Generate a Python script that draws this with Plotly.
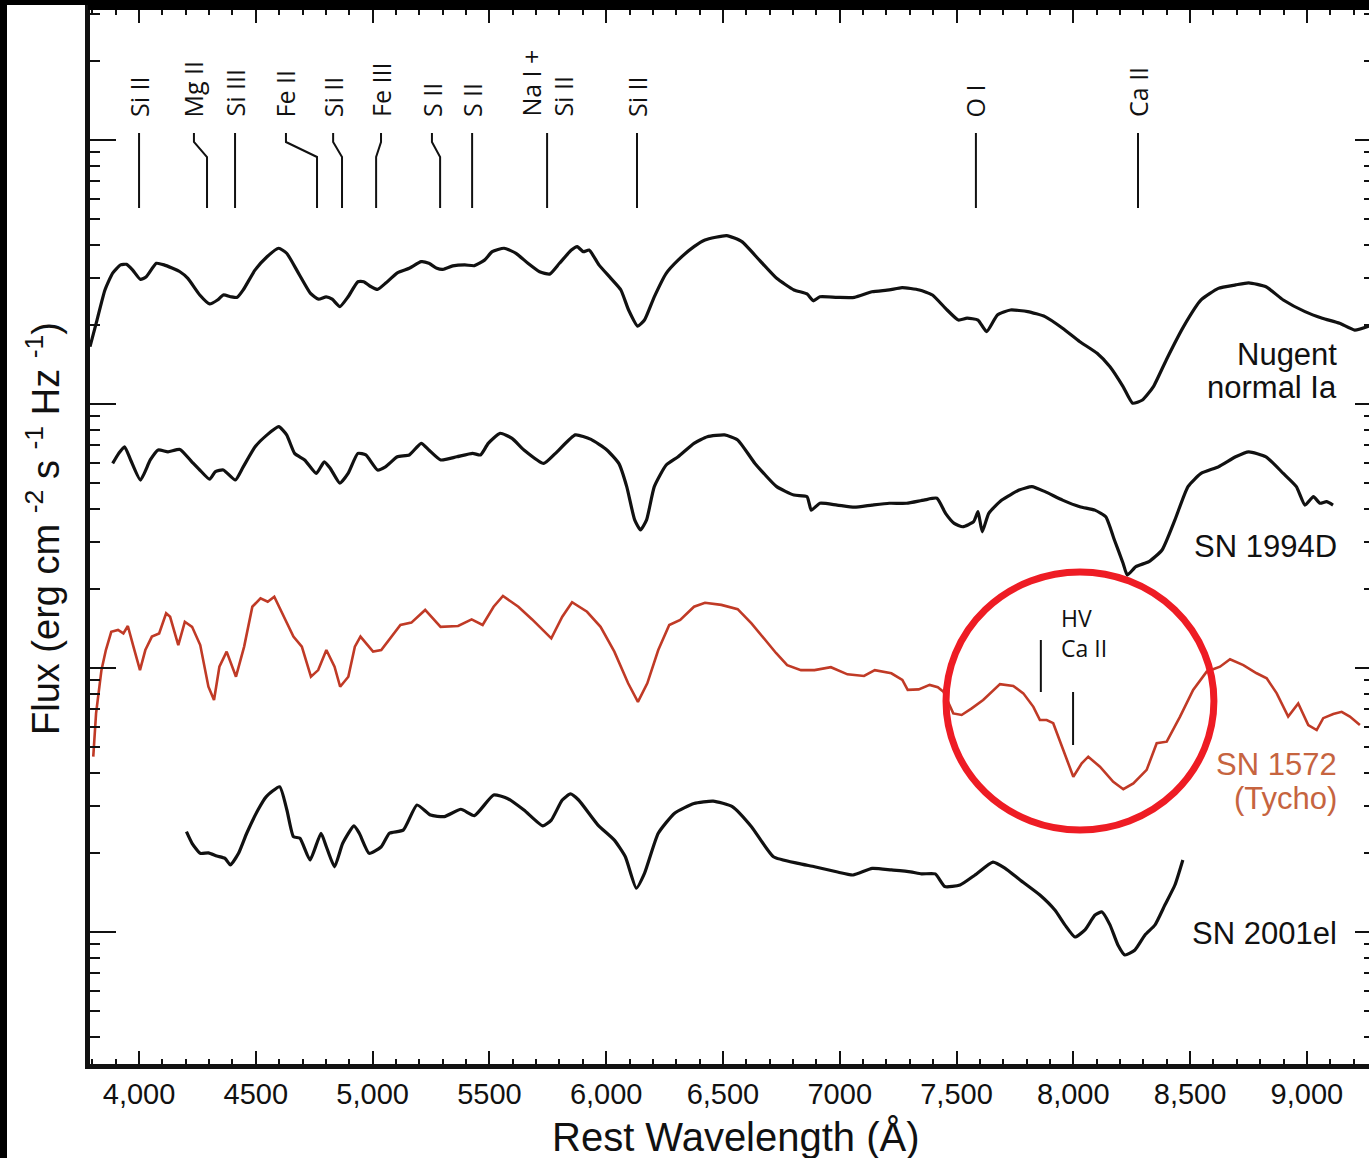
import numpy as np
import plotly.graph_objects as go

# ---------------- data (wavelength in Angstrom, log10 flux in arbitrary offset units) ----------------
nugent_wl = [3790, 3820, 3854, 3887, 3921, 3946, 3972, 4006, 4031, 4074, 4107, 4175, 4209, 4260, 4302, 4336,
             4361, 4395, 4420, 4446, 4497, 4548, 4598, 4632, 4683, 4734, 4768, 4801, 4827, 4860, 4895, 4937,
             4962, 4988, 5021, 5055, 5106, 5157, 5208, 5241, 5275, 5301, 5343, 5394, 5436, 5479, 5512, 5563,
             5614, 5665, 5715, 5758, 5800, 5851, 5876, 5902, 5927, 5969, 6020, 6063, 6096, 6135, 6164, 6206,
             6257, 6308, 6376, 6423, 6516, 6581, 6656, 6730, 6804, 6860, 6887, 6915, 6989, 7063, 7138, 7212,
             7267, 7341, 7397, 7453, 7508, 7545, 7592, 7629, 7675, 7731, 7805, 7879, 7954, 8028, 8102, 8157,
             8213, 8254, 8296, 8343, 8398, 8472, 8547, 8621, 8695, 8751, 8825, 8899, 8992, 9066, 9140, 9205, 9266]
nugent_log_flux = [0.217, 0.318, 0.432, 0.496, 0.527, 0.529, 0.508, 0.472, 0.482, 0.533, 0.527, 0.501, 0.476,
                   0.413, 0.379, 0.394, 0.413, 0.406, 0.404, 0.432, 0.508, 0.558, 0.590, 0.571, 0.495, 0.419,
                   0.397, 0.406, 0.397, 0.369, 0.406, 0.463, 0.463, 0.447, 0.434, 0.457, 0.497, 0.514, 0.539,
                   0.533, 0.514, 0.510, 0.523, 0.527, 0.524, 0.545, 0.577, 0.590, 0.571, 0.533, 0.501, 0.492,
                   0.533, 0.583, 0.596, 0.577, 0.583, 0.527, 0.476, 0.432, 0.356, 0.295, 0.318, 0.406, 0.495,
                   0.545, 0.596, 0.621, 0.638, 0.615, 0.545, 0.476, 0.432, 0.417, 0.391, 0.406, 0.404, 0.404,
                   0.425, 0.432, 0.441, 0.432, 0.413, 0.362, 0.318, 0.325, 0.318, 0.274, 0.337, 0.356, 0.350,
                   0.331, 0.287, 0.236, 0.192, 0.141, 0.066, 0.003, 0.015, 0.066, 0.167, 0.293, 0.394, 0.438,
                   0.451, 0.459, 0.444, 0.394, 0.350, 0.325, 0.306, 0.280, 0.295]

sn1994d_wl = [3887, 3913, 3938, 3964, 4006, 4048, 4082, 4124, 4175, 4226, 4260, 4302, 4327, 4361, 4412, 4446,
              4497, 4548, 4598, 4632, 4666, 4709, 4759, 4793, 4819, 4860, 4895, 4937, 4971, 5021, 5055, 5106,
              5157, 5208, 5241, 5292, 5360, 5428, 5462, 5495, 5546, 5597, 5648, 5733, 5783, 5868, 5935, 6003,
              6054, 6088, 6122, 6147, 6173, 6206, 6257, 6308, 6376, 6433, 6507, 6563, 6637, 6730, 6804, 6860,
              6878, 6915, 6989, 7063, 7138, 7212, 7286, 7360, 7416, 7453, 7490, 7527, 7573, 7592, 7610, 7638,
              7694, 7768, 7823, 7879, 7954, 8028, 8092, 8139, 8176, 8213, 8231, 8268, 8324, 8380, 8435, 8491,
              8547, 8621, 8695, 8751, 8825, 8899, 8955, 8992, 9028, 9056, 9084, 9112]
sn1994d_log_flux = [-0.225, -0.187, -0.162, -0.212, -0.288, -0.212, -0.174, -0.181, -0.172, -0.219, -0.250,
                    -0.285, -0.256, -0.250, -0.288, -0.238, -0.162, -0.117, -0.086, -0.117, -0.187, -0.212,
                    -0.263, -0.219, -0.244, -0.300, -0.263, -0.187, -0.193, -0.250, -0.238, -0.200, -0.193,
                    -0.149, -0.174, -0.212, -0.200, -0.187, -0.193, -0.149, -0.111, -0.130, -0.174, -0.225,
                    -0.187, -0.117, -0.134, -0.174, -0.225, -0.313, -0.439, -0.477, -0.439, -0.313, -0.231,
                    -0.200, -0.149, -0.124, -0.117, -0.136, -0.225, -0.313, -0.345, -0.351, -0.402, -0.376,
                    -0.383, -0.391, -0.383, -0.376, -0.376, -0.364, -0.357, -0.414, -0.452, -0.465, -0.446,
                    -0.408, -0.484, -0.414, -0.364, -0.326, -0.313, -0.332, -0.364, -0.389, -0.402, -0.427,
                    -0.515, -0.603, -0.648, -0.616, -0.597, -0.553, -0.439, -0.313, -0.263, -0.238, -0.200,
                    -0.181, -0.200, -0.263, -0.313, -0.383, -0.351, -0.376, -0.370, -0.383]

tycho_wl = [3804, 3816, 3839, 3858, 3881, 3910, 3933, 3952, 3976, 4004, 4027, 4055, 4086, 4116, 4133, 4168,
            4196, 4227, 4262, 4297, 4321, 4344, 4375, 4415, 4450, 4485, 4520, 4551, 4579, 4614, 4661, 4697,
            4736, 4767, 4802, 4837, 4861, 4896, 4924, 4948, 5002, 5037, 5119, 5166, 5225, 5291, 5366, 5424,
            5471, 5518, 5558, 5624, 5683, 5765, 5812, 5854, 5918, 5976, 6035, 6094, 6136, 6176, 6223, 6270,
            6317, 6376, 6423, 6493, 6563, 6622, 6681, 6728, 6775, 6834, 6892, 6962, 7033, 7104, 7150, 7221,
            7268, 7291, 7338, 7385, 7420, 7444, 7486, 7522, 7565, 7614, 7686, 7743, 7786, 7829, 7857, 7886,
            7914, 7957, 8000, 8036, 8064, 8114, 8171, 8214, 8257, 8314, 8357, 8400, 8457, 8513, 8571, 8628,
            8671, 8728, 8785, 8828, 8871, 8920, 8963, 9006, 9042, 9070, 9113, 9149, 9184, 9227]
tycho_log_flux = [-1.336, -1.172, -1.008, -0.932, -0.863, -0.856, -0.869, -0.841, -0.919, -1.008, -0.932,
                  -0.881, -0.869, -0.793, -0.806, -0.913, -0.825, -0.844, -0.913, -1.071, -1.121, -0.995,
                  -0.938, -1.033, -0.919, -0.768, -0.736, -0.749, -0.730, -0.793, -0.881, -0.919, -1.033,
                  -1.008, -0.932, -0.995, -1.071, -1.033, -0.919, -0.881, -0.938, -0.932, -0.837, -0.828,
                  -0.780, -0.844, -0.841, -0.816, -0.837, -0.768, -0.727, -0.768, -0.816, -0.888, -0.806,
                  -0.751, -0.787, -0.844, -0.938, -1.058, -1.128, -1.058, -0.932, -0.837, -0.818, -0.768,
                  -0.753, -0.761, -0.777, -0.831, -0.894, -0.944, -0.989, -1.008, -1.008, -0.997, -1.024,
                  -1.030, -1.008, -1.020, -1.045, -1.083, -1.081, -1.064, -1.073, -1.090, -1.172, -1.178,
                  -1.153, -1.121, -1.061, -1.068, -1.096, -1.147, -1.197, -1.197, -1.209, -1.311, -1.412,
                  -1.361, -1.336, -1.374, -1.431, -1.459, -1.437, -1.386, -1.285, -1.279, -1.184, -1.083,
                  -1.014, -0.995, -0.967, -0.989, -1.020, -1.039, -1.096, -1.184, -1.134, -1.216, -1.235,
                  -1.190, -1.174, -1.166, -1.184, -1.216]

sn2001el_wl = [4203, 4227, 4262, 4297, 4333, 4368, 4391, 4426, 4461, 4509, 4544, 4602, 4633, 4661, 4689, 4732,
               4779, 4802, 4837, 4872, 4920, 4943, 4985, 5037, 5072, 5131, 5190, 5248, 5307, 5378, 5436, 5518,
               5577, 5648, 5729, 5765, 5812, 5847, 5882, 5965, 6035, 6082, 6129, 6164, 6223, 6293, 6376, 6458,
               6540, 6622, 6716, 6822, 6892, 6986, 7057, 7139, 7221, 7303, 7350, 7409, 7450, 7515, 7579, 7656,
               7707, 7772, 7857, 7921, 7964, 8007, 8050, 8093, 8123, 8157, 8191, 8221, 8264, 8307, 8350, 8392,
               8435, 8469]
sn2001el_log_flux = [-1.620, -1.664, -1.702, -1.700, -1.712, -1.721, -1.746, -1.702, -1.626, -1.538, -1.488,
                     -1.450, -1.538, -1.639, -1.645, -1.727, -1.626, -1.677, -1.753, -1.664, -1.598, -1.626,
                     -1.702, -1.677, -1.626, -1.614, -1.519, -1.557, -1.563, -1.535, -1.559, -1.481, -1.494,
                     -1.538, -1.598, -1.576, -1.500, -1.477, -1.500, -1.595, -1.652, -1.715, -1.834, -1.778,
                     -1.626, -1.550, -1.513, -1.504, -1.525, -1.601, -1.715, -1.740, -1.753, -1.772, -1.784,
                     -1.759, -1.765, -1.772, -1.780, -1.780, -1.828, -1.822, -1.784, -1.735, -1.758, -1.803,
                     -1.860, -1.917, -1.973, -2.019, -1.992, -1.936, -1.924, -1.973, -2.049, -2.087, -2.068,
                     -2.011, -1.973, -1.898, -1.822, -1.727]

# x tick labels
x_tickvals = [4000, 4500, 5000, 5500, 6000, 6500, 7000, 7500, 8000, 8500, 9000]
x_ticktext = ["4,000", "4500", "5,000", "5500", "6,000", "6,500", "7000", "7,500", "8,000", "8,500", "9,000"]

# line identifications (label, wavelength at label, wavelength at lower end of marker)
line_ids = ["Si II", "Mg II", "Si III", "Fe II", "Si II", "Fe III", "S II", "S II", "Na I +<br>Si II",
            "Si II", "O I", "Ca II"]
line_top_wl = [4000, 4235, 4411, 4629, 4831, 5036, 5254, 5426, 5747, 6132, 7583, 8277]
line_bot_wl = [4000, 4291, 4411, 4762, 4869, 5015, 5289, 5426, 5747, 6132, 7583, 8277]

# spectrum labels: (text, log10 flux position, colour key)
spec_labels = [("Nugent", 0.186, "k"), ("normal Ia", 0.061, "k"), ("SN 1994D", -0.538, "k"),
               ("SN 1572", -1.367, "r"), ("(Tycho)", -1.496, "r"), ("SN 2001el", -2.004, "k")]
label_wl = 9137

# high-velocity Ca II markers
hv_wl = [7861, 7999]

# ---------------- figure ----------------
W, H = 1369, 1158
ML, MR, MT, MB = 90, 0, 10, 94
PW, PH = W - ML - MR, H - MT - MB

def px_x(p):
    return (p - ML) / PW

def px_y(p):
    return (H - MB - p) / PH

BLACK = "#111111"
RED = "#c03a26"
RED_TXT = "#c6643f"

fig = go.Figure()
for wl, lf, col, w, shp in [(nugent_wl, nugent_log_flux, BLACK, 3.2, "spline"),
                            (sn1994d_wl, sn1994d_log_flux, BLACK, 3.2, "spline"),
                            (tycho_wl, tycho_log_flux, RED, 2.6, "linear"),
                            (sn2001el_wl, sn2001el_log_flux, BLACK, 3.2, "spline")]:
    fig.add_trace(go.Scatter(x=wl, y=10 ** np.array(lf), mode="lines",
                             line=dict(color=col, width=w, shape=shp, smoothing=0.5),
                             hoverinfo="skip", showlegend=False))
# dummy trace for right-hand mirrored log axis
fig.add_trace(go.Scatter(x=[], y=[], yaxis="y2", showlegend=False))

yr = [-2.5, 1 + 130 / 264]
xr = [3790, 9266]

fig.update_layout(
    width=W, height=H,
    margin=dict(l=ML, r=MR, t=MT, b=MB, pad=0),
    paper_bgcolor="white", plot_bgcolor="white",
    showlegend=False,
    xaxis=dict(range=xr, type="linear", tickmode="array", tickvals=x_tickvals, ticktext=x_ticktext,
               ticks="inside", ticklen=13, tickwidth=2, tickcolor=BLACK,
               showline=True, linewidth=4.5, linecolor=BLACK, mirror="ticks",
               showgrid=False, zeroline=False, ticklabelstandoff=0,
               tickfont=dict(family="Liberation Sans, Arial, sans-serif", size=29, color=BLACK),
               minor=dict(ticks="inside", ticklen=5, tickwidth=2, tickcolor=BLACK, dtick=100, tick0=0,
                          showgrid=False)),
    yaxis=dict(type="log", range=yr, dtick=1, ticks="inside", ticklen=26, tickwidth=2, tickcolor=BLACK,
               showline=True, linewidth=5, linecolor=BLACK, showticklabels=False,
               showgrid=False, zeroline=False,
               minor=dict(ticks="inside", ticklen=10, tickwidth=2, tickcolor=BLACK, dtick="D1",
                          showgrid=False)),
    yaxis2=dict(type="log", range=yr, overlaying="y", side="right", anchor="x", dtick=1,
                ticks="inside", ticklen=14, tickwidth=2, tickcolor=BLACK, showline=False,
                showticklabels=False, showgrid=False, zeroline=False,
                minor=dict(ticks="inside", ticklen=5, tickwidth=2, tickcolor=BLACK, dtick="D1",
                           showgrid=False)),
)

shapes = []
annotations = []

# line ID markers
y_top, y_b1, y_b2, y_bot = px_y(133), px_y(142), px_y(157), px_y(208)
for name, xt, xb in zip(line_ids, line_top_wl, line_bot_wl):
    path = f"M {xt},{y_top} L {xt},{y_b1} L {xb},{y_b2} L {xb},{y_bot}"
    shapes.append(dict(type="path", xref="x", yref="paper", path=path,
                       line=dict(color=BLACK, width=2)))
    annotations.append(dict(x=xt, y=px_y(119), xref="x", yref="paper", text=name, showarrow=False,
                            textangle=-90, xanchor="center", yanchor="bottom", align="left",
                            font=dict(family="Open Sans, sans-serif", size=25, color=BLACK)))

# HV Ca II markers
shapes.append(dict(type="line", xref="x", yref="paper", x0=hv_wl[0], x1=hv_wl[0],
                   y0=px_y(640), y1=px_y(692), line=dict(color=BLACK, width=2)))
shapes.append(dict(type="line", xref="x", yref="paper", x0=hv_wl[1], x1=hv_wl[1],
                   y0=px_y(692), y1=px_y(745), line=dict(color=BLACK, width=2)))
annotations.append(dict(x=7939, y=px_y(633), xref="x", yref="paper", text="HV<br>Ca II", showarrow=False,
                        xanchor="left", yanchor="middle", align="left",
                        font=dict(family="Open Sans, sans-serif", size=23, color=BLACK)))

# red circle
shapes.append(dict(type="circle", xref="x", yref="paper", x0=7455, x1=8602, y0=px_y(830), y1=px_y(572),
                   line=dict(color="#ee1c24", width=7), layer="above"))

# spectrum labels
for txt, ly, c in spec_labels:
    annotations.append(dict(x=label_wl, y=ly, xref="x", yref="y", text=txt, showarrow=False,
                            xanchor="right", yanchor="middle",
                            font=dict(family="Liberation Sans, Arial, sans-serif", size=31,
                                      color=RED_TXT if c == "r" else BLACK)))

# axis titles
annotations.append(dict(x=px_x(736), y=px_y(1137), xref="paper", yref="paper",
                        text="Rest Wavelength (Å)", showarrow=False, xanchor="center", yanchor="middle",
                        font=dict(family="Liberation Sans, Arial, sans-serif", size=40, color=BLACK)))
annotations.append(dict(x=px_x(43), y=px_y(529), xref="paper", yref="paper",
                        text="Flux (erg cm <sup>-2</sup> s <sup>-1</sup> Hz <sup>-1</sup>)",
                        showarrow=False, textangle=-90, xanchor="center", yanchor="middle",
                        font=dict(family="Liberation Sans, Arial, sans-serif", size=38, color=BLACK)))

# black image borders
shapes.append(dict(type="rect", xref="paper", yref="paper", x0=px_x(0), x1=px_x(7), y0=px_y(H), y1=px_y(0),
                   fillcolor="black", line=dict(width=0), layer="above"))
shapes.append(dict(type="rect", xref="paper", yref="paper", x0=px_x(0), x1=px_x(W), y0=px_y(5), y1=px_y(0),
                   fillcolor="black", line=dict(width=0), layer="above"))
shapes.append(dict(type="rect", xref="paper", yref="paper", x0=px_x(88), x1=px_x(W), y0=px_y(10), y1=px_y(0),
                   fillcolor="black", line=dict(width=0), layer="above"))

fig.update_layout(shapes=shapes, annotations=annotations)
fig.write_html("out.html", config={"displayModeBar": False},
               post_script="document.body.style.margin='0';document.body.style.overflow='hidden';")
